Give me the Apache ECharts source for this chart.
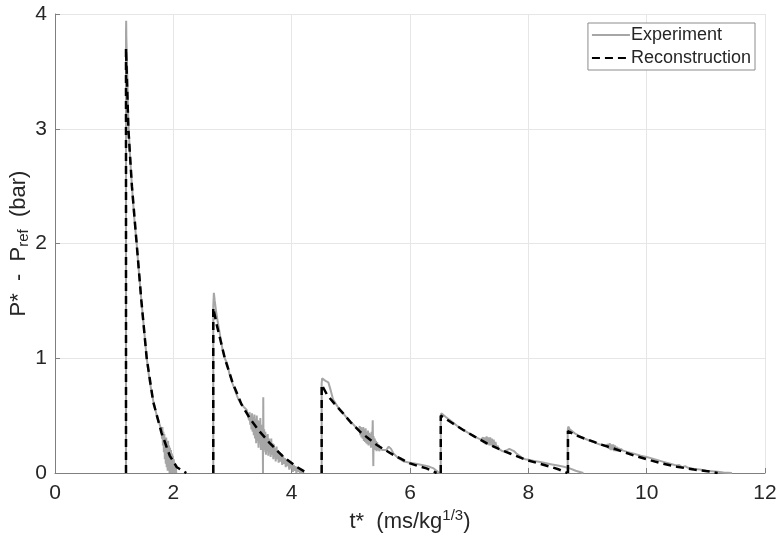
<!DOCTYPE html>
<html>
<head>
<meta charset="utf-8">
<script src="https://cdn.jsdelivr.net/npm/echarts@6/dist/echarts.min.js"></script>
<style>
html, body { margin: 0; padding: 0; background: #fff; }
#chart { width: 782px; height: 538px; }
</style>
</head>
<body>
<div id="chart"></div>
<script>
// measured pressure, one array per blast pulse: [t*, P* - Pref]
var expPulse1 = [[1.2,0],[1.2,3.82],[1.203,3.94],[1.206,3.8],[1.22,3.5],[1.24,3.05],[1.27,2.75],[1.3,2.5],[1.34,2.22],[1.38,2.0],[1.42,1.74],[1.46,1.5],[1.5,1.28],[1.55,1.0],[1.6,0.8],[1.66,0.63],[1.72,0.5],[1.77,0.42],[1.8,0.37],[1.808,0.3],[1.816,0.4],[1.824,0.24],[1.832,0.36],[1.84,0.18],[1.848,0.34],[1.856,0.12],[1.864,0.3],[1.872,0.08],[1.88,0.31],[1.888,0.05],[1.896,0.27],[1.904,0.02],[1.912,0.28],[1.92,0.06],[1.928,0.24],[1.936,0.0],[1.944,0.22],[1.952,0.04],[1.96,0.2],[1.968,0.0],[1.976,0.17],[1.984,0.02],[1.992,0.15],[2.0,0.0],[2.008,0.12],[2.016,0.0],[2.024,0.09],[2.032,0.0],[2.04,0.06],[2.05,0.0]];
var expPulse2 = [[2.675,0],[2.675,1.45],[2.685,1.57],[2.7,1.5],[2.72,1.42],[2.75,1.32],[2.79,1.2],[2.83,1.08],[2.87,1.0],[2.91,0.95],[2.95,0.86],[3.0,0.78],[3.05,0.71],[3.1,0.64],[3.15,0.6],[3.2,0.57],[3.24,0.55],[3.28,0.46],[3.29,0.53],[3.3,0.42],[3.31,0.5],[3.32,0.38],[3.33,0.52],[3.34,0.36],[3.35,0.49],[3.36,0.33],[3.37,0.51],[3.38,0.3],[3.39,0.47],[3.4,0.26],[3.41,0.5],[3.42,0.28],[3.43,0.46],[3.44,0.22],[3.45,0.45],[3.46,0.26],[3.47,0.48],[3.48,0.2],[3.49,0.42],[3.5,0.24],[3.51,0.4],[3.515,0.0],[3.52,0.66],[3.525,0.18],[3.535,0.38],[3.545,0.2],[3.555,0.36],[3.565,0.16],[3.575,0.33],[3.585,0.19],[3.595,0.34],[3.605,0.15],[3.615,0.3],[3.625,0.18],[3.635,0.28],[3.645,0.14],[3.655,0.3],[3.665,0.16],[3.68,0.26],[3.69,0.12],[3.7,0.25],[3.71,0.14],[3.72,0.22],[3.73,0.1],[3.745,0.23],[3.755,0.12],[3.77,0.2],[3.78,0.09],[3.795,0.18],[3.81,0.1],[3.825,0.17],[3.84,0.07],[3.855,0.15],[3.87,0.08],[3.885,0.13],[3.9,0.05],[3.915,0.12],[3.93,0.06],[3.945,0.1],[3.96,0.03],[3.975,0.09],[3.99,0.04],[4.005,0.08],[4.02,0.01],[4.035,0.07],[4.05,0.02],[4.065,0.06],[4.08,0.0],[4.095,0.05],[4.11,0.01],[4.125,0.04],[4.14,0.0],[4.155,0.03],[4.17,0.0],[4.185,0.02],[4.2,0.0]];
var expPulse3 = [[4.507,0],[4.507,0.78],[4.515,0.825],[4.54,0.81],[4.58,0.8],[4.62,0.79],[4.66,0.72],[4.7,0.64],[4.75,0.6],[4.8,0.56],[4.87,0.52],[4.95,0.47],[5.03,0.43],[5.1,0.39],[5.14,0.37],[5.15,0.41],[5.16,0.33],[5.17,0.4],[5.18,0.31],[5.19,0.39],[5.2,0.3],[5.21,0.4],[5.22,0.28],[5.23,0.38],[5.24,0.27],[5.25,0.39],[5.26,0.26],[5.27,0.36],[5.28,0.25],[5.29,0.37],[5.3,0.24],[5.31,0.35],[5.32,0.25],[5.33,0.34],[5.34,0.22],[5.35,0.36],[5.36,0.23],[5.37,0.46],[5.38,0.06],[5.385,0.32],[5.395,0.2],[5.405,0.3],[5.415,0.2],[5.425,0.28],[5.435,0.19],[5.445,0.27],[5.455,0.2],[5.47,0.25],[5.48,0.19],[5.5,0.22],[5.53,0.2],[5.56,0.19],[5.6,0.2],[5.64,0.23],[5.68,0.21],[5.72,0.17],[5.8,0.13],[5.9,0.1],[6.0,0.09],[6.1,0.08],[6.2,0.07],[6.3,0.06],[6.4,0.04],[6.47,0.01],[6.5,0.0]];
var expPulse4 = [[6.52,0],[6.52,0.5],[6.53,0.52],[6.6,0.49],[6.7,0.45],[6.8,0.41],[6.9,0.375],[7.0,0.345],[7.1,0.315],[7.2,0.29],[7.22,0.28],[7.235,0.31],[7.25,0.26],[7.265,0.31],[7.28,0.25],[7.295,0.32],[7.31,0.25],[7.325,0.31],[7.34,0.24],[7.355,0.31],[7.37,0.24],[7.385,0.3],[7.4,0.23],[7.415,0.29],[7.43,0.22],[7.445,0.27],[7.46,0.22],[7.48,0.24],[7.5,0.21],[7.53,0.2],[7.56,0.19],[7.6,0.19],[7.64,0.2],[7.68,0.21],[7.72,0.2],[7.76,0.19],[7.8,0.17],[7.85,0.15],[7.9,0.13],[7.95,0.12],[8.0,0.115],[8.1,0.105],[8.2,0.095],[8.3,0.085],[8.4,0.075],[8.5,0.065],[8.6,0.055],[8.7,0.04],[8.8,0.02],[8.9,0.005],[8.93,0.0]];
var expPulse5 = [[8.665,0],[8.665,0.37],[8.675,0.405],[8.7,0.38],[8.8,0.34],[8.9,0.31],[9.0,0.29],[9.1,0.27],[9.2,0.25],[9.3,0.235],[9.33,0.23],[9.345,0.25],[9.36,0.21],[9.375,0.26],[9.39,0.2],[9.405,0.25],[9.42,0.2],[9.435,0.25],[9.45,0.19],[9.465,0.24],[9.48,0.19],[9.495,0.23],[9.51,0.19],[9.525,0.22],[9.54,0.19],[9.56,0.21],[9.6,0.195],[9.7,0.18],[9.8,0.165],[9.9,0.15],[10.0,0.14],[10.1,0.125],[10.2,0.11],[10.3,0.095],[10.4,0.08],[10.5,0.065],[10.55,0.07],[10.6,0.05],[10.65,0.06],[10.7,0.045],[10.8,0.035],[10.9,0.03],[11.0,0.02],[11.1,0.015],[11.2,0.01],[11.3,0.005],[11.44,0.0]];

// reconstructed pulses
var recPulse1 = [[1.2,0],[1.2,3.7],[1.24,3.0],[1.3,2.5],[1.38,2.0],[1.46,1.5],[1.55,1.0],[1.66,0.62],[1.8,0.35],[1.94,0.15],[2.06,0.05],[2.22,0]];
var recPulse2 = [[2.675,0],[2.675,1.44],[2.73,1.3],[2.8,1.15],[2.87,1.0],[3.0,0.79],[3.15,0.6],[3.3,0.47],[3.46,0.36],[3.63,0.26],[3.86,0.14],[4.08,0.055],[4.26,0]];
var recPulse3 = [[4.507,0],[4.507,0.77],[4.6,0.68],[4.73,0.6],[4.87,0.52],[5.0,0.44],[5.155,0.36],[5.3,0.3],[5.44,0.244],[5.58,0.2],[5.72,0.157],[5.86,0.12],[6.0,0.084],[6.14,0.06],[6.28,0.04],[6.45,0]];
var recPulse4 = [[6.52,0],[6.52,0.5],[6.7,0.44],[6.9,0.375],[7.1,0.315],[7.3,0.259],[7.5,0.21],[7.7,0.168],[7.97,0.113],[8.2,0.08],[8.37,0.055],[8.52,0.03],[8.66,0]];
var recPulse5 = [[8.67,0],[8.67,0.366],[8.8,0.33],[8.95,0.3],[9.1,0.273],[9.25,0.245],[9.435,0.215],[9.6,0.185],[9.8,0.15],[10.0,0.12],[10.25,0.085],[10.51,0.055],[10.8,0.03],[11.07,0.012],[11.2,0]];

var xTicks = [0, 12, 2];
var yTicks = [0, 4, 1];

(function(){
    var myChart = echarts.init(document.getElementById('chart'));
    var font = 'Liberation Sans, Arial, Helvetica, sans-serif';
    var expPulses = [expPulse1, expPulse2, expPulse3, expPulse4, expPulse5];
    var recPulses = [recPulse1, recPulse2, recPulse3, recPulse4, recPulse5];
    var series = [];
    expPulses.forEach(function(d){
        series.push({
            name: 'Experiment',
            type: 'line',
            data: d,
            symbol: 'none',
            z: 2,
            itemStyle: { color: '#a6a6a6' },
            lineStyle: { color: '#a6a6a6', width: 2 }
        });
    });
    recPulses.forEach(function(d){
        series.push({
            name: 'Reconstruction',
            type: 'line',
            data: d,
            symbol: 'none',
            z: 3,
            itemStyle: { color: '#000' },
            lineStyle: { color: '#000', width: 2.5, type: [8, 5] }
        });
    });

    var axisCommon = {
        type: 'value',
        axisLine: { show: true, onZero: false, lineStyle: { color: '#7f7f7f', width: 1 } },
        axisTick: { show: true, inside: true, length: 5, lineStyle: { color: '#7f7f7f' } },
        splitLine: { show: true, lineStyle: { color: '#e6e6e6', width: 1 } },
        axisLabel: { fontSize: 21, color: '#262626', fontFamily: font }
    };

    var option = {
        backgroundColor: '#fff',
        animation: false,
        textStyle: { fontFamily: font },
        grid: { left: 55, right: 17, top: 14, bottom: 65, containLabel: false, outerBoundsMode: 'none' },
        legend: {
            data: ['Experiment', 'Reconstruction'],
            orient: 'vertical',
            right: 27,
            top: 23,
            padding: [3, 4, 3, 3],
            itemGap: 5,
            itemWidth: 38,
            itemHeight: 14,
            align: 'left',
            backgroundColor: '#fff',
            borderColor: '#8c8c8c',
            borderWidth: 1,
            itemStyle: { opacity: 0 },
            textStyle: { fontSize: 18, color: '#262626', padding: [0, 0, 0, -4] }
        },
        xAxis: echarts.util.merge({
            min: xTicks[0], max: xTicks[1], interval: xTicks[2],
            name: '{a|t*  (ms/kg}{sup|1/3}{a|)}',
            nameLocation: 'middle',
            nameGap: 35,
            nameMoveOverlap: false,
            nameTextStyle: {
                rich: {
                    a: { fontSize: 22, color: '#262626', fontFamily: font },
                    sup: { fontSize: 15, color: '#262626', fontFamily: font, padding: [0, 0, 12, 0] }
                }
            },
            axisLabel: { margin: 10 }
        }, axisCommon),
        yAxis: echarts.util.merge({
            min: yTicks[0], max: yTicks[1], interval: yTicks[2],
            name: '{a|P*  -  P}{sub|ref}{a|  (bar)}',
            nameLocation: 'middle',
            nameGap: 24,
            nameMoveOverlap: false,
            nameRotate: 90,
            nameTextStyle: {
                rich: {
                    a: { fontSize: 22, color: '#262626', fontFamily: font },
                    sub: { fontSize: 15, color: '#262626', fontFamily: font, padding: [10, 0, 0, 0] }
                }
            },
            axisLabel: { margin: 8 }
        }, axisCommon),
        series: series
    };
    myChart.setOption(option);
    window.addEventListener('resize', function() {
        myChart.resize();
    });
})();
</script>
</body>
</html>
